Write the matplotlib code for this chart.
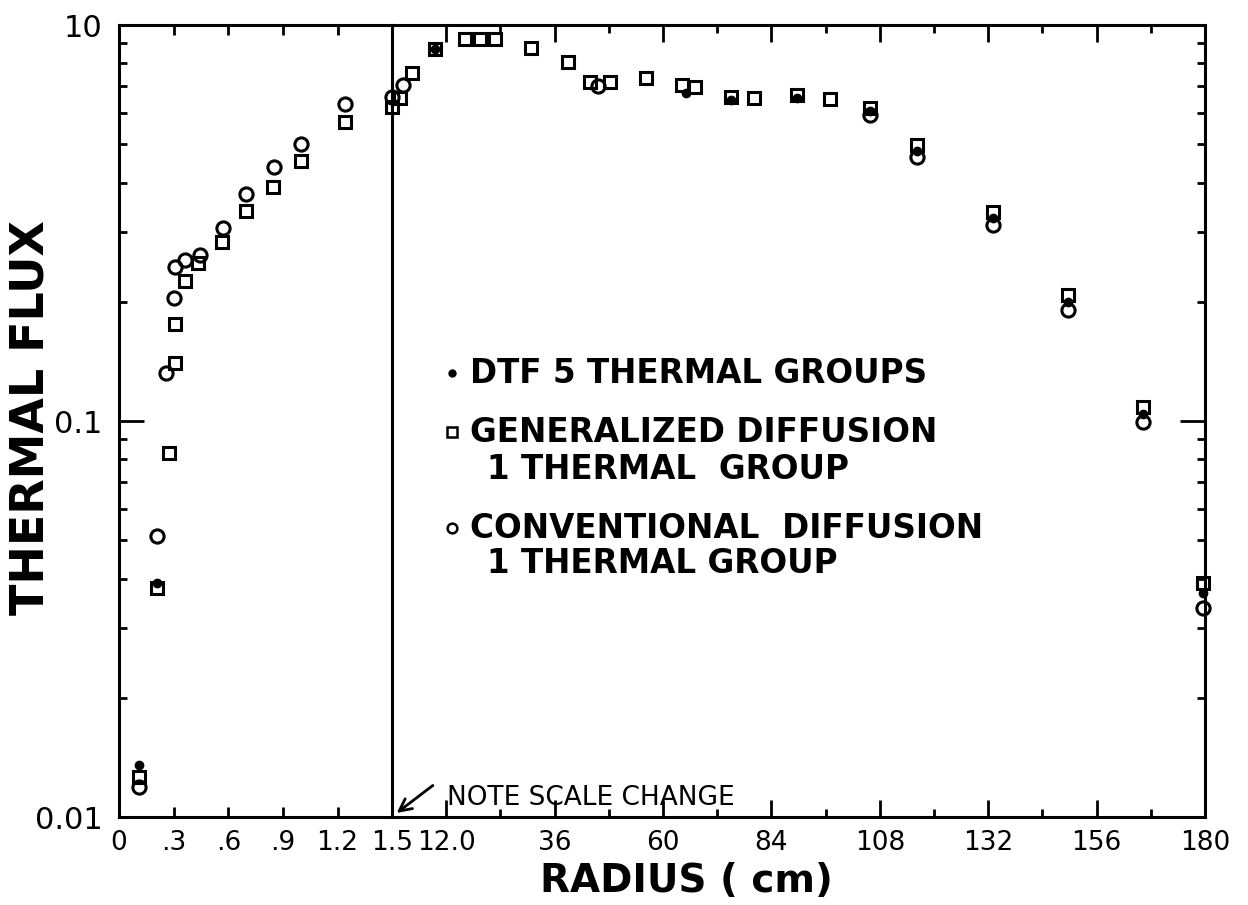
import matplotlib.pyplot as plt
import numpy as np
from matplotlib.ticker import LogLocator, NullFormatter, FixedLocator

plt.rcParams['font.family'] = 'DejaVu Sans'

# ---- data (thermal flux vs radius) ----
# inner region, 0 - 1.5 cm
conv_x_in = [0.11, 0.21, 0.26, 0.30, 0.31, 0.36, 0.445, 0.57, 0.70, 0.85, 1.0, 1.24]
conv_y_in = [0.0119, 0.0513, 0.132, 0.204, 0.245, 0.255, 0.262, 0.307, 0.374, 0.439, 0.502, 0.631]
gen_x_in = [0.11, 0.21, 0.275, 0.31, 0.31, 0.36, 0.435, 0.565, 0.695, 0.845, 1.0, 1.24]
gen_y_in = [0.0126, 0.0378, 0.083, 0.140, 0.176, 0.226, 0.250, 0.284, 0.340, 0.391, 0.454, 0.570]
dtf_x_in = [0.11, 0.21]
dtf_y_in = [0.0135, 0.0389]

# outer region, 1.5 - 180 cm
conv_x_out = [0, 2.4, 45.7, 105.8, 116.3, 133.1, 149.7, 166.2, 179.5]
conv_y_out = [0.659, 0.705, 0.701, 0.593, 0.465, 0.313, 0.191, 0.0996, 0.0337]
gen_x_out = [0, 1.8, 4.4, 9.5, 16.2, 19.5, 22.8, 30.8, 39.0, 43.9, 48.2, 56.2, 64.2, 67.2,
             75.1, 80.1, 89.7, 97.0, 105.8, 116.3, 133.1, 149.7, 166.2, 179.5]
gen_y_out = [0.62, 0.653, 0.757, 0.868, 0.92, 0.92, 0.92, 0.877, 0.808, 0.719, 0.719, 0.736, 0.705, 0.696,
             0.659, 0.656, 0.666, 0.651, 0.616, 0.498, 0.338, 0.208, 0.1087, 0.0389]
dtf_x_out = [9.5, 65.2, 75.1, 89.7, 105.8, 116.3, 133.1, 149.7, 166.2, 179.5]
dtf_y_out = [0.868, 0.672, 0.645, 0.655, 0.605, 0.48, 0.325, 0.2, 0.104, 0.0367]

xt_in = [0, 0.3, 0.6, 0.9, 1.2, 1.5]
xtl_in = ['0', '.3', '.6', '.9', '1.2', '1.5']
xt_out = [12, 36, 60, 84, 108, 132, 156, 180]
xtl_out = ['12.0', '36', '60', '84', '108', '132', '156', '180']
xt_out_minor = [24, 48, 72, 96, 120, 144, 168]
yt = [0.01, 0.1, 1]
ytl = ['0.01', '0.1', '10']

fig = plt.figure(figsize=(12.48, 9.05), dpi=100)
ax1 = fig.add_axes([0.0954, 0.0972, 0.2188, 0.8751])
ax2 = fig.add_axes([0.3141, 0.0972, 0.6514, 0.8751])

sq = dict(marker='s', ms=9, mfc='none', mec='k', mew=2.2, ls='none', clip_on=False)
ci = dict(marker='o', ms=9.5, mfc='none', mec='k', mew=2.2, ls='none', clip_on=False)
dt = dict(marker='o', ms=6, color='k', ls='none', clip_on=False)

ax1.plot(conv_x_in, conv_y_in, **ci)
ax1.plot(gen_x_in, gen_y_in, **sq)
ax1.plot(dtf_x_in, dtf_y_in, **dt)
ax2.plot(conv_x_out, conv_y_out, **ci)
ax2.plot(gen_x_out, gen_y_out, **sq)
ax2.plot(dtf_x_out, dtf_y_out, **dt)

for ax in (ax1, ax2):
    ax.set_yscale('log')
    ax.set_ylim(0.01, 1)
    for s in ax.spines.values():
        s.set_linewidth(2.2)
    ax.yaxis.set_minor_locator(LogLocator(base=10, subs=np.arange(2, 10)))
    ax.yaxis.set_minor_formatter(NullFormatter())

ax1.set_xlim(0, 1.5)
ax1.spines['right'].set_visible(False)
ax1.set_xticks(xt_in)
ax1.set_xticklabels(xtl_in)
ax1.set_yticks(yt)
ax1.set_yticklabels(ytl)
ax1.tick_params(axis='x', which='major', direction='in', top=True, bottom=True,
                length=7, width=2, labelsize=19, pad=9)
ax1.tick_params(axis='y', which='major', direction='in', left=True, right=False,
                length=18, width=2, labelsize=22, pad=12)
ax1.tick_params(axis='y', which='minor', direction='in', left=True, right=False,
                length=6, width=2)

ax2.set_xlim(0, 180)
ax2.set_xticks(xt_out)
ax2.set_xticklabels(xtl_out)
ax2.xaxis.set_minor_locator(FixedLocator(xt_out_minor))
ax2.set_yticks(yt)
ax2.tick_params(axis='x', which='major', direction='in', top=True, bottom=True,
                length=12, width=2, labelsize=19, pad=9)
ax2.tick_params(axis='x', which='minor', direction='in', top=True, bottom=True,
                length=6, width=2)
ax2.tick_params(axis='y', which='both', direction='in', left=False, right=True,
                labelleft=False, labelright=False, width=2)
ax2.tick_params(axis='y', which='major', length=18)
ax2.tick_params(axis='y', which='minor', length=6)

# legend drawn by hand so the key sits on the first line
lx, tx, tx2 = 0.0738, 0.0959, 0.1169
ax2.plot([lx], [0.5606], transform=ax2.transAxes, marker='o', ms=5, color='k')
ax2.plot([lx], [0.4861], transform=ax2.transAxes, marker='s', ms=7, mfc='none', mec='k', mew=1.8)
ax2.plot([lx], [0.3649], transform=ax2.transAxes, marker='o', ms=7, mfc='none', mec='k', mew=1.8)
kw = dict(transform=ax2.transAxes, fontsize=23.5, va='center', ha='left', fontweight='bold')
ax2.text(tx, 0.5606, 'DTF 5 THERMAL GROUPS', **kw)
ax2.text(tx, 0.4861, 'GENERALIZED DIFFUSION', **kw)
ax2.text(tx2, 0.4394, '1 THERMAL  GROUP', **kw)
ax2.text(tx, 0.3649, 'CONVENTIONAL  DIFFUSION', **kw)
ax2.text(tx2, 0.3207, '1 THERMAL GROUP', **kw)

ax2.text(0.0677, 0.024, 'NOTE SCALE CHANGE', transform=ax2.transAxes, fontsize=19,
         va='center', ha='left')
ax2.annotate('', xy=(0.003, 0.003), xycoords='axes fraction',
             xytext=(0.053, 0.042), textcoords='axes fraction',
             arrowprops=dict(arrowstyle='->', lw=2, color='k', mutation_scale=22))

fig.text(0.025, 1 - 418 / 905, 'THERMAL FLUX', rotation=90, fontsize=33,
         fontweight='bold', ha='center', va='center')
fig.text(686 / 1248, 1 - 881 / 905, 'RADIUS ( cm)', fontsize=28, fontweight='bold',
         ha='center', va='center')

fig.savefig('out.png', dpi=100)
